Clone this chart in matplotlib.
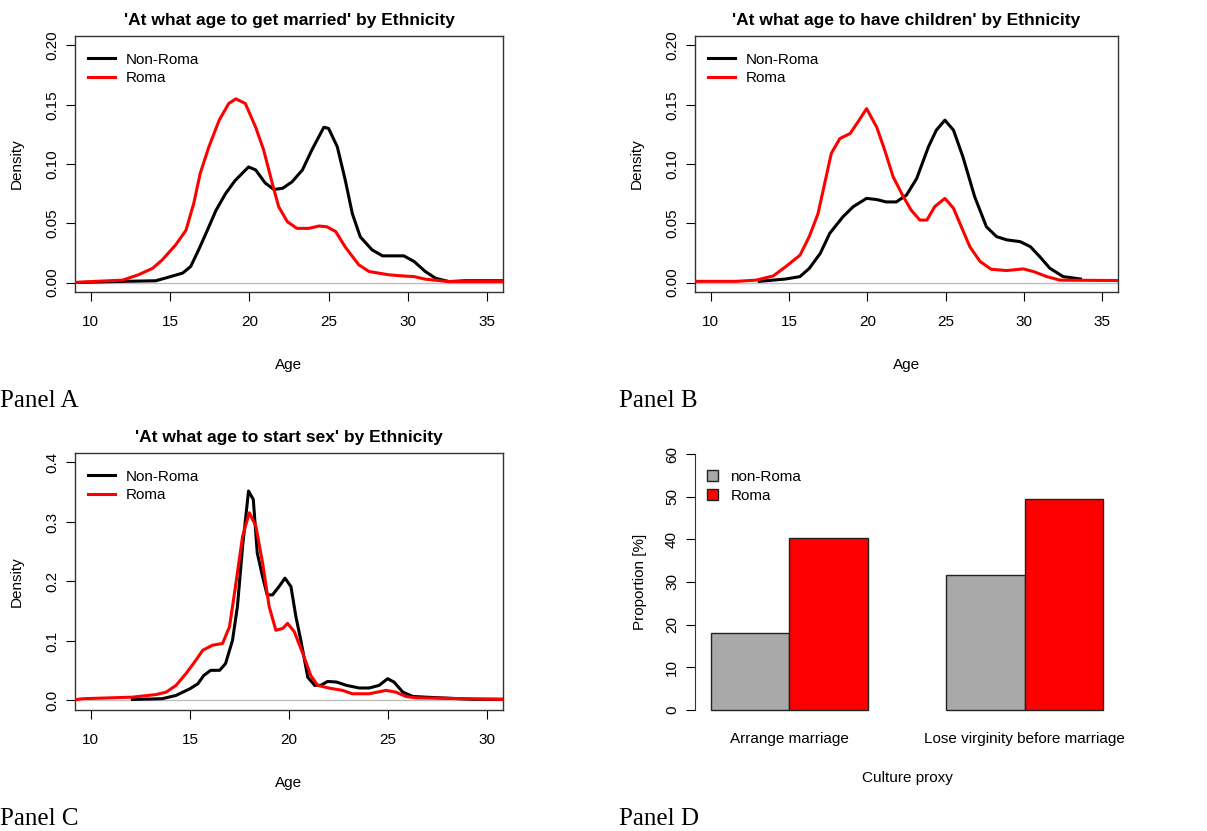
import numpy as np
import matplotlib.pyplot as plt
from matplotlib.patches import Patch

plt.rcParams['font.family'] = ['Liberation Sans', 'DejaVu Sans']

# --- Panel A: age to get married (density curves) ---
married_nonroma_age = [9.0, 12.1, 14.1, 14.9, 15.8, 16.3, 16.8, 17.35, 17.9, 18.5, 19.1, 19.95,
                       20.4, 21.0, 21.55, 22.1, 22.7, 23.35, 23.95, 24.7, 25.0, 25.55, 26.05,
                       26.5, 27.0, 27.75, 28.4, 29.75, 30.4, 31.1, 31.75, 32.6, 33.6, 36.0]
married_nonroma_dens = [0.0, 0.001, 0.0015, 0.0045, 0.008, 0.0135, 0.0275, 0.044, 0.061, 0.075,
                        0.086, 0.0975, 0.095, 0.084, 0.0785, 0.0795, 0.085, 0.095, 0.112, 0.131,
                        0.130, 0.1145, 0.0865, 0.058, 0.0385, 0.0275, 0.0225, 0.0225, 0.0177,
                        0.0093, 0.0036, 0.0008, 0.0015, 0.0015]
married_roma_age = [9.0, 10.3, 12.0, 13.0, 13.9, 14.5, 15.35, 16.0, 16.5, 16.9, 17.45, 18.1,
                    18.7, 19.15, 19.75, 20.4, 20.9, 21.45, 21.85, 22.4, 23.0, 23.75, 24.4,
                    24.9, 25.45, 26.05, 26.9, 27.55, 28.8, 29.65, 30.4, 31.1, 32.6, 36.0]
married_roma_dens = [0.0, 0.001, 0.002, 0.0065, 0.012, 0.019, 0.0317, 0.044, 0.067, 0.092,
                     0.1145, 0.137, 0.151, 0.155, 0.151, 0.131, 0.112, 0.0836, 0.064, 0.0513,
                     0.0457, 0.0457, 0.0477, 0.047, 0.043, 0.030, 0.015, 0.0093, 0.0065,
                     0.0056, 0.005, 0.0028, 0.0008, 0.0008]

# --- Panel B: age to have children ---
children_nonroma_age = [13.1, 14.8, 15.7, 16.3, 17.0, 17.6, 18.45, 19.1, 19.95, 20.6, 21.2,
                        21.85, 22.5, 23.15, 23.9, 24.4, 24.95, 25.5, 26.1, 26.85, 27.6, 28.25,
                        28.9, 29.75, 30.4, 31.0, 31.65, 32.5, 33.6]
children_nonroma_dens = [0.001, 0.003, 0.005, 0.012, 0.0247, 0.0415, 0.0556, 0.064, 0.071,
                         0.070, 0.068, 0.068, 0.0738, 0.0878, 0.1145, 0.1285, 0.137, 0.1285,
                         0.106, 0.0724, 0.047, 0.0387, 0.036, 0.0345, 0.0303, 0.0219, 0.012,
                         0.005, 0.003]
children_roma_age = [9.0, 11.6, 12.9, 14.0, 14.8, 15.7, 16.3, 16.85, 17.3, 17.7, 18.25, 18.9,
                     19.4, 19.95, 20.6, 21.1, 21.65, 22.3, 22.8, 23.35, 23.8, 24.3, 24.95,
                     25.5, 26.0, 26.55, 27.2, 27.9, 28.9, 29.95, 30.6, 31.45, 32.3, 36.0]
children_roma_dens = [0.001, 0.001, 0.002, 0.0056, 0.0135, 0.023, 0.039, 0.058, 0.085, 0.109,
                      0.1215, 0.1257, 0.1355, 0.1467, 0.131, 0.112, 0.089, 0.0724, 0.061,
                      0.0527, 0.0527, 0.064, 0.071, 0.0626, 0.047, 0.030, 0.0177, 0.0112,
                      0.0101, 0.0115, 0.0093, 0.005, 0.002, 0.0017]

# --- Panel C: age to start sex ---
sex_nonroma_age = [12.1, 13.6, 14.3, 15.0, 15.4, 15.7, 16.05, 16.5, 16.8, 17.15, 17.4, 17.66,
                   17.96, 18.2, 18.4, 18.67, 18.9, 19.17, 19.5, 19.8, 20.1, 20.35, 20.6,
                   20.95, 21.3, 21.6, 21.95, 22.4, 22.9, 23.55, 24.05, 24.55, 24.98, 25.3,
                   25.75, 26.25, 26.9, 28.6, 29.3, 30.8]
sex_nonroma_dens = [0.0017, 0.003, 0.0085, 0.0197, 0.028, 0.042, 0.0507, 0.0507, 0.062, 0.101,
                    0.158, 0.259, 0.352, 0.338, 0.248, 0.208, 0.1775, 0.1775, 0.1915, 0.2056,
                    0.1915, 0.141, 0.101, 0.039, 0.0254, 0.0254, 0.032, 0.031, 0.0254, 0.021,
                    0.021, 0.0254, 0.0366, 0.031, 0.014, 0.0068, 0.0056, 0.003, 0.002, 0.002]
sex_roma_age = [9.16, 9.6, 12.1, 13.3, 13.8, 14.3, 14.8, 15.3, 15.65, 16.15, 16.65, 17.0, 17.3,
                17.66, 18.0, 18.33, 18.67, 19.0, 19.34, 19.68, 19.93, 20.27, 20.7, 21.1, 21.45,
                22.0, 22.7, 23.2, 24.05, 24.9, 25.4, 25.9, 26.4, 28.95, 30.8]
sex_roma_dens = [0.001, 0.003, 0.0056, 0.010, 0.014, 0.0254, 0.045, 0.0676, 0.0845, 0.093,
                 0.0958, 0.124, 0.1915, 0.276, 0.3155, 0.293, 0.231, 0.158, 0.118, 0.121,
                 0.1296, 0.1155, 0.079, 0.042, 0.0254, 0.021, 0.017, 0.0113, 0.0113, 0.017,
                 0.014, 0.0068, 0.0045, 0.003, 0.002]

# --- Panel D: culture proxies ---
proxy_names = ['Arrange marriage', 'Lose virginity before marriage']
proxy_nonroma = [18.0, 31.7]
proxy_roma = [40.4, 49.4]

TXT = 11
fig = plt.figure(figsize=(12.07, 8.31), dpi=100)


def density_panel(rect, title, nr_x, nr_y, r_x, r_y, xticks, xlim, yticks, ylim, ylabs):
    ax = fig.add_axes(rect)
    ax.axhline(0, color='#bebebe', lw=1, zorder=1)
    ax.plot(nr_x, nr_y, color='black', lw=2.2, label='Non-Roma', zorder=2)
    ax.plot(r_x, r_y, color='red', lw=2.2, label='Roma', zorder=3)
    ax.set_xlim(*xlim)
    ax.set_ylim(*ylim)
    ax.set_xticks(xticks)
    ax.set_yticks(yticks)
    ax.set_yticklabels(ylabs, rotation=90, va='center')
    ax.tick_params(length=6.5, width=0.8, labelsize=TXT, pad=5)
    ax.tick_params(axis='x', pad=10)
    for s in ax.spines.values():
        s.set_linewidth(1)
        s.set_color('#333333')
    ax.set_title(title, fontsize=12.5, fontweight='bold', pad=8)
    ax.set_xlabel('Age', fontsize=TXT, labelpad=21)
    ax.set_ylabel('Density', fontsize=TXT, labelpad=15)
    ax.legend(loc='upper left', bbox_to_anchor=(0.03, 0.935), frameon=False, fontsize=TXT,
              handlelength=1.8, handletextpad=0.7, labelspacing=0.3, borderpad=0,
              borderaxespad=0)
    return ax


density_panel([0.0621, 0.6486, 0.3546, 0.3081], "'At what age to get married' by Ethnicity",
              married_nonroma_age, married_nonroma_dens, married_roma_age, married_roma_dens,
              [10, 15, 20, 25, 30, 35], (9, 36), [0, 0.05, 0.10, 0.15, 0.20], (-0.008, 0.208),
              ['0.00', '0.05', '0.10', '0.15', '0.20'])

density_panel([0.5758, 0.6486, 0.3505, 0.3081], "'At what age to have children' by Ethnicity",
              children_nonroma_age, children_nonroma_dens, children_roma_age, children_roma_dens,
              [10, 15, 20, 25, 30, 35], (9, 36), [0, 0.05, 0.10, 0.15, 0.20], (-0.008, 0.208),
              ['0.00', '0.05', '0.10', '0.15', '0.20'])

density_panel([0.0621, 0.1456, 0.3546, 0.3093], "'At what age to start sex' by Ethnicity",
              sex_nonroma_age, sex_nonroma_dens, sex_roma_age, sex_roma_dens,
              [10, 15, 20, 25, 30], (9.2, 30.8), [0, 0.1, 0.2, 0.3, 0.4], (-0.016, 0.416),
              ['0.0', '0.1', '0.2', '0.3', '0.4'])

# --- bar panel ---
axd = fig.add_axes([0.5758, 0.1336, 0.3513, 0.3321])
pos = np.arange(len(proxy_names)) * 3
axd.bar(pos + 1.5, proxy_nonroma, width=1, color='#a9a9a9', edgecolor='#222222', lw=1)
axd.bar(pos + 2.5, proxy_roma, width=1, color='#ff0000', edgecolor='#222222', lw=1)
axd.set_xlim(0.8, 6.2)
axd.set_ylim(-2.4, 62.4)
axd.set_xticks(pos + 2)
axd.set_xticklabels(proxy_names)
axd.set_yticks(range(0, 61, 10))
axd.set_yticklabels([str(v) for v in range(0, 61, 10)], rotation=90, va='center')
axd.tick_params(axis='y', length=6.5, width=0.8, labelsize=TXT, pad=5)
axd.tick_params(axis='x', length=0, labelsize=TXT, pad=9)
for s in ['top', 'right', 'bottom']:
    axd.spines[s].set_visible(False)
axd.spines['left'].set_bounds(0, 60)
axd.spines['left'].set_color('#333333')
axd.set_xlabel('Culture proxy', fontsize=TXT, labelpad=18)
axd.set_ylabel('Proportion [%]', fontsize=TXT, labelpad=13)
axd.legend([Patch(facecolor='#a9a9a9', edgecolor='#222222'),
            Patch(facecolor='#ff0000', edgecolor='#222222')], ['non-Roma', 'Roma'],
           loc='upper left', bbox_to_anchor=(0.028, 0.905), frameon=False, fontsize=TXT,
           handlelength=0.75, handleheight=0.75, handletextpad=0.8, labelspacing=0.3,
           borderpad=0, borderaxespad=0)

# --- panel labels ---
for lab, x, y in [('Panel A', 0.0, 407), ('Panel B', 619, 407), ('Panel C', 0.0, 825),
                  ('Panel D', 619, 825)]:
    fig.text(x / 1207, 1 - y / 831, lab, family='Liberation Serif', fontsize=18,
             ha='left', va='baseline')

fig.savefig('out.png', dpi=100)
